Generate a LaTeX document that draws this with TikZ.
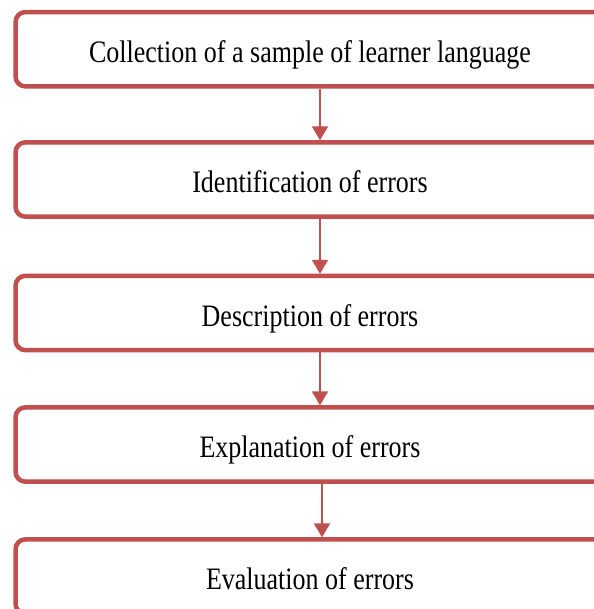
\documentclass[tikz,border=0pt]{standalone}
\usepackage{fontspec}
\setmainfont{Liberation Serif}
\usetikzlibrary{arrows.meta}
\definecolor{boxred}{HTML}{C0504D}
\newcommand{\tallt}[1]{\scalebox{1}[1.2]{#1}}
\begin{document}
\begin{tikzpicture}[x=1pt,y=-1pt,
  stepbox/.style={minimum width=640pt,minimum height=74pt,inner sep=0pt,anchor=west},
  boxline/.style={draw=boxred,line width=4.5pt,rounded corners=10pt},
  steptext/.style={inner sep=0pt,text height=26pt,text depth=0pt,
    font=\fontsize{26}{30}\selectfont},
  conn/.style={draw=boxred,line width=2pt,shorten <=2.25pt,shorten >=2pt,
    -{Triangle[width=16pt,length=14pt]}}]
\useasboundingbox (0,0) rectangle (593,609);
\foreach \n/\y in {b1/49.25,b2/179.5,b3/313,b4/444.5,b5/576.5}{
  \node[stepbox] (\n) at (15.5,\y) {};
  \draw[boxline] (\n.north east) -- (\n.north west) -- (\n.south west) -- (\n.south east);
}
\node[steptext] (t1) at (310,49.25) {\tallt{Collection of a sample of learner language}};
\node[steptext] (t2) at (310,179.5) {\tallt{Identification of errors}};
\node[steptext] (t3) at (310,313) {\tallt{Description of errors}};
\node[steptext] (t4) at (310,444.5) {\tallt{Explanation of errors}};
\node[steptext] (t5) at (310,576.5) {\tallt{Evaluation of errors}};
\coordinate (x1) at (320,0);
\coordinate (x2) at (322,0);
\draw[conn] (b1.south -| x1) -- (b2.north -| x1);
\draw[conn] (b2.south -| x1) -- (b3.north -| x1);
\draw[conn] (b3.south -| x1) -- (b4.north -| x1);
\draw[conn] (b4.south -| x2) -- (b5.north -| x2);
\end{tikzpicture}
\end{document}
